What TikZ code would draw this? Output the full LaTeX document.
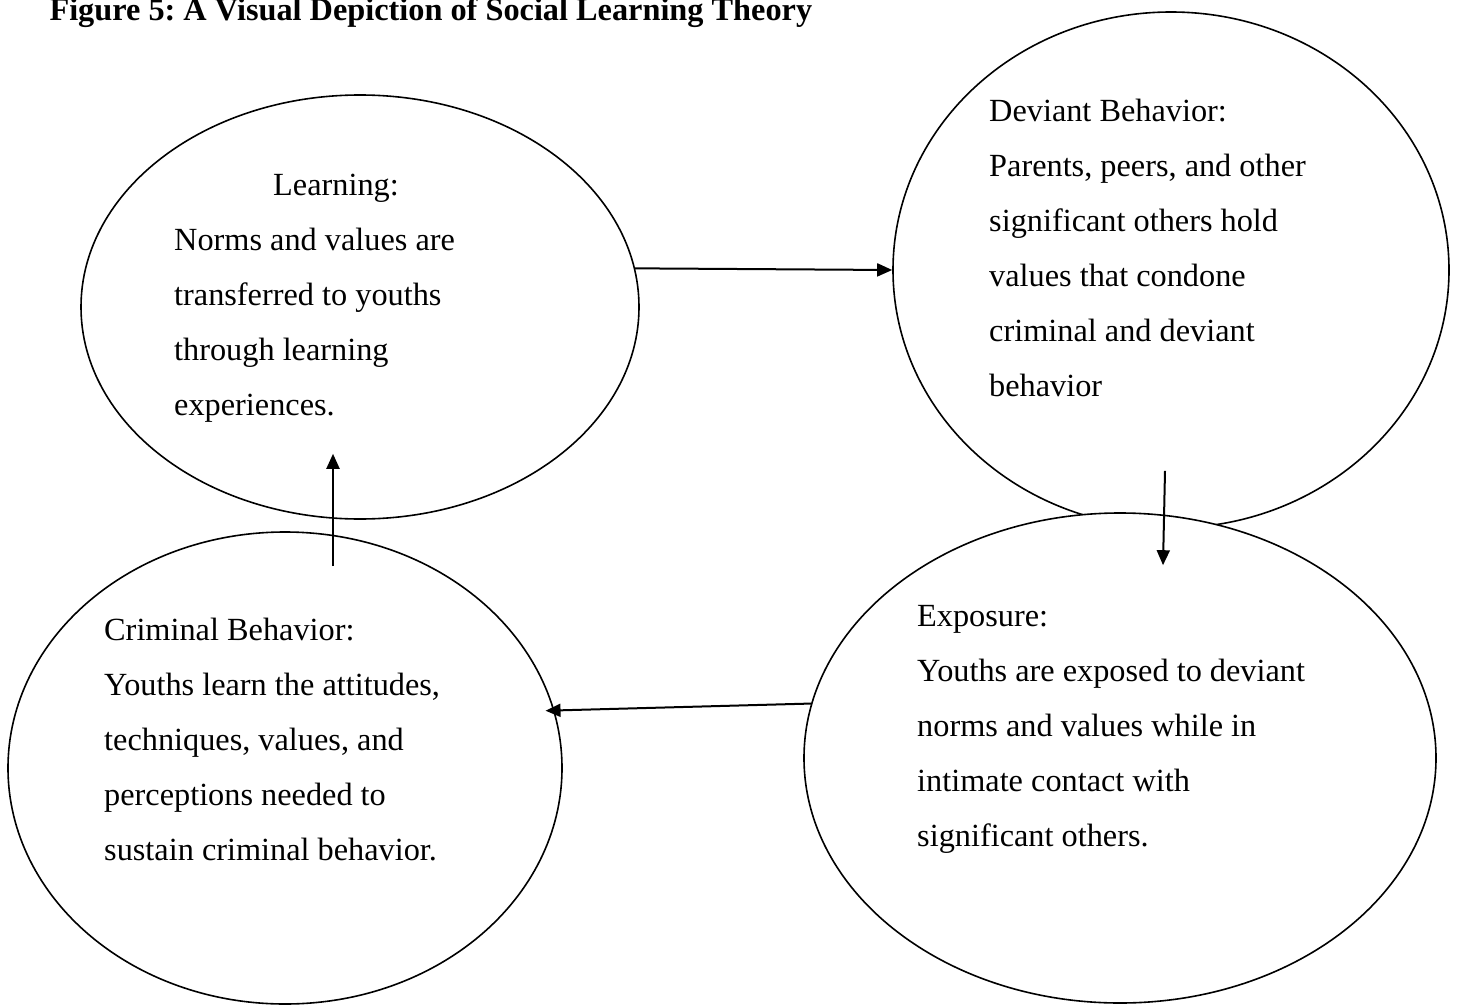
\documentclass[tikz,border=0pt]{standalone}
\usepackage{fontspec}
\setmainfont{Liberation Serif}
\usetikzlibrary{shapes.geometric,arrows.meta}
\frenchspacing

\begin{document}
\begin{tikzpicture}[x=1pt,y=-1pt,
	every node/.style={font=\fontsize{32.3}{55}\selectfont},
	stage/.style={ellipse,draw,fill=white,line width=1.6pt,inner sep=0pt},
	note/.style={anchor=north west,align=left,inner sep=0pt},
	flow/.style={-{Triangle[length=15pt,width=13pt]},line width=2pt}]
\useasboundingbox (0,0) rectangle (1459,1006);
\node[anchor=base west,font=\fontsize{32.3}{40}\selectfont\bfseries] (title) at (46,21)
	{Figure 5: A Visual Depiction of Social Learning Theory};
% the four stages, deviant first so exposure covers it
\node[stage,minimum width=558pt,minimum height=424pt] (learn) at (360,307) {};
\node[stage,minimum width=556pt,minimum height=516pt] (dev) at (1171,270) {};
\node[stage,minimum width=632pt,minimum height=490pt] (expo) at (1120,758) {};
\node[stage,minimum width=554pt,minimum height=472pt] (crim) at (285,768) {};
% texts
\node[note] (learntxt) at (174,156.5) {\strut\hspace*{99pt}Learning:\\
	Norms and values are\\
	transferred to youths\\
	through learning\\
	experiences.};
\node[note] (devtxt) at (989,82.5) {\strut Deviant Behavior:\\
	Parents, peers, and other\\
	significant others hold\\
	values that condone\\
	criminal and deviant\\
	behavior};
\node[note] (expotxt) at (917,587.5) {\strut Exposure:\\
	Youths are exposed to deviant\\
	norms and values while in\\
	intimate contact with\\
	significant others.};
\node[note] (crimtxt) at (104,601.5) {\strut Criminal Behavior:\\
	Youths learn the attitudes,\\
	techniques, values, and\\
	perceptions needed to\\
	sustain criminal behavior.};
% cycle
\draw[flow] (learn.8) -- (dev.west);
\draw[flow] ([shift={(-6,-58)}]dev.south) -- ([shift={(43,53)}]expo.north);
\draw[flow] (expo.170) -- ([xshift=-9pt]crim.12);
\draw[flow] ([shift={(48,35)}]crim.north) -- ([shift={(-27,-66)}]learn.south);
\end{tikzpicture}
\end{document}
